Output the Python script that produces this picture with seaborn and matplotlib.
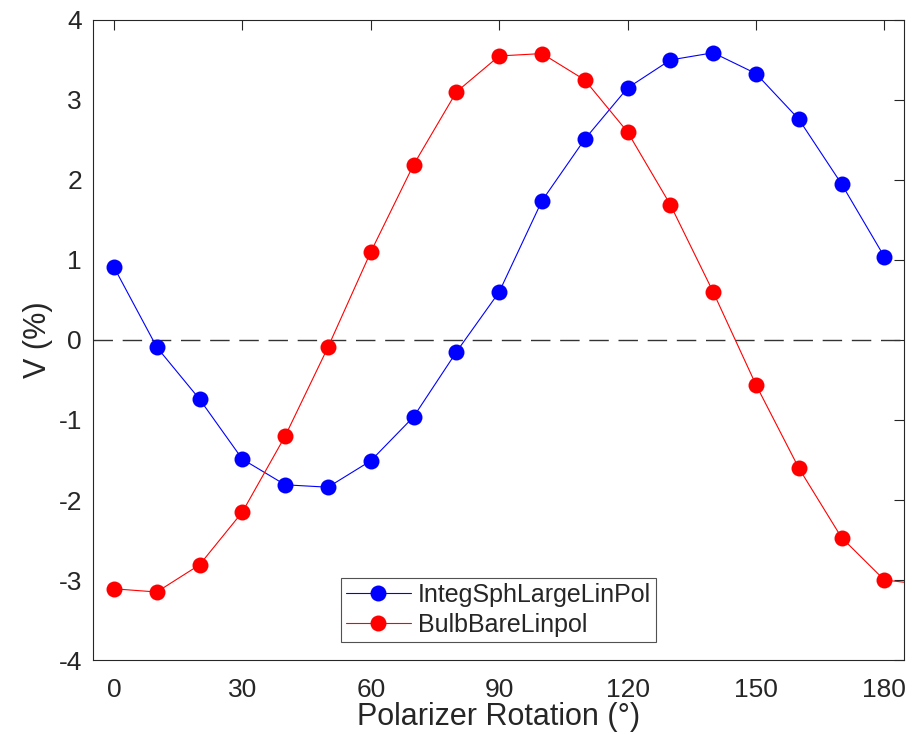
import numpy as np
import pandas as pd
import matplotlib
matplotlib.use("Agg")
import matplotlib.pyplot as plt
import seaborn as sns

angles_blue = [0, 10, 20, 30, 40, 50, 60, 70, 80, 90, 100, 110, 120, 130, 140, 150, 160, 170, 180]
v_blue = [0.91, -0.09, -0.74, -1.49, -1.81, -1.84, -1.51, -0.96, -0.15, 0.60, 1.74, 2.51, 3.15, 3.50, 3.59, 3.33, 2.76, 1.95, 1.04]
angles_red = [0, 10, 20, 30, 40, 50, 60, 70, 80, 90, 100, 110, 120, 130, 140, 150, 160, 170, 180, 190]
v_red = [-3.11, -3.15, -2.81, -2.15, -1.20, -0.09, 1.10, 2.19, 3.10, 3.55, 3.58, 3.25, 2.60, 1.69, 0.60, -0.56, -1.60, -2.47, -3.00, -3.06]
series_names = ["IntegSphLargeLinPol", "BulbBareLinpol"]
colors = ["#0000FF", "#FF0000"]
xticks = [0, 30, 60, 90, 120, 150, 180]
yticks = [-4, -3, -2, -1, 0, 1, 2, 3, 4]

df = pd.concat([
    pd.DataFrame({"angle": angles_blue, "V": v_blue, "series": series_names[0]}),
    pd.DataFrame({"angle": angles_red, "V": v_red, "series": series_names[1]}),
])

sns.set_style("white")
plt.rcParams["font.family"] = ["Liberation Sans", "DejaVu Sans"]
plt.rcParams["axes.unicode_minus"] = False

fig = plt.figure(figsize=(9.21, 7.34), dpi=100)
ax = fig.add_axes([0.101, 0.1008, 0.8806, 0.872])

ax.axhline(0, color="#333333", lw=1.0, dashes=(14, 7), zorder=1)

sns.lineplot(data=df, x="angle", y="V", hue="series", palette=dict(zip(series_names, colors)),
             marker="o", markersize=11.5, markeredgewidth=0, linewidth=0.8, sort=False,
             estimator=None, ax=ax, zorder=3)

ax.set_xlim(-4.9, 184.6)
ax.set_ylim(-4, 4)
ax.set_xticks(xticks)
ax.set_yticks(yticks)
ax.set_xlabel("Polarizer Rotation (°)", fontsize=22, color="#262626", labelpad=0)
ax.set_ylabel("V (%)", fontsize=22, color="#262626", labelpad=4)
ax.tick_params(direction="in", length=7, width=0.8, color="#262626", labelsize=19,
               labelcolor="#262626", top=True, right=True, pad=8)
ax.tick_params(axis="x", pad=13)
for s in ax.spines.values():
    s.set_visible(True)
    s.set_color("#262626")
    s.set_linewidth(0.8)

leg = ax.legend(loc="lower center", bbox_to_anchor=(0.5, 0.028), fontsize=18, frameon=True,
                fancybox=False, edgecolor="#262626", handlelength=2.6, borderpad=0.2,
                labelspacing=0.25, handletextpad=0.3, borderaxespad=0)
leg.get_frame().set_linewidth(0.8)
for h in leg.legend_handles:
    h.set_markersize(11.5)

fig.savefig("out.png", dpi=100)
